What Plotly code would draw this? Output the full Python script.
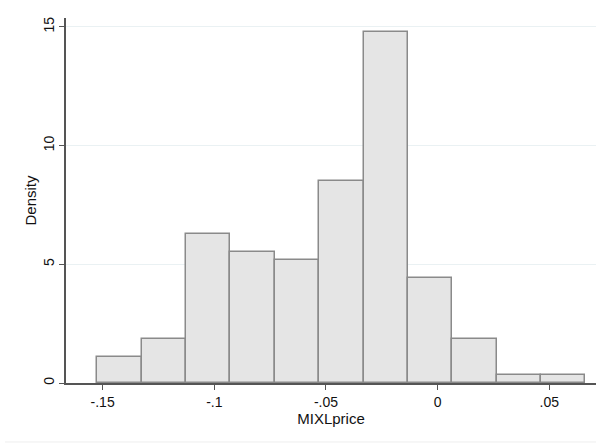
import plotly.graph_objects as go

# Histogram data
bin_start = -0.1524
bin_width = 0.01987
densities = [1.11, 1.84, 6.28, 5.53, 5.18, 8.51, 14.78, 4.42, 1.84, 0.34, 0.34]
x_tickvals = [-0.15, -0.1, -0.05, 0, 0.05]
x_ticktext = ["-.15", "-.1", "-.05", "0", ".05"]
y_tickvals = [0, 5, 10, 15]
y_ticktext = ["0", "5", "10", "15"]

centers = [bin_start + bin_width * (i + 0.5) for i in range(len(densities))]

fig = go.Figure()
fig.add_trace(go.Bar(
    x=centers, y=densities, width=[bin_width] * len(densities),
    marker=dict(color="#e5e5e5", line=dict(color="#8a8a8a", width=1.5)),
    hoverinfo="skip",
))

font = dict(family="Liberation Sans, Arial, Helvetica, sans-serif", size=14, color="#111")

fig.update_layout(
    width=605, height=443,
    margin=dict(l=66, r=9, t=18, b=60),
    paper_bgcolor="white", plot_bgcolor="white",
    showlegend=False, bargap=0,
    font=font,
    xaxis=dict(
        range=[-0.1664, 0.0709], automargin=False,
        tickvals=x_tickvals, ticktext=x_ticktext,
        ticks="outside", ticklen=5, tickwidth=1.2, tickcolor="#555",
        showline=True, linecolor="#555", linewidth=1.5,
        showgrid=False, zeroline=False,
        title=dict(text="MIXLprice", font=dict(size=15), standoff=3),
    ),
    yaxis=dict(
        range=[0, 15.37], automargin=False,
        tickvals=y_tickvals, ticktext=y_ticktext, tickangle=-90,
        ticks="outside", ticklen=5, tickwidth=1.2, tickcolor="#555",
        showline=True, linecolor="#555", linewidth=1.5,
        showgrid=True, gridcolor="#eaf1f3", gridwidth=1.2,
        zeroline=False,
        title=dict(text="Density", font=dict(size=15), standoff=0),
    ),
)

# faint outer graph border at the bottom
fig.add_shape(type="line", xref="paper", yref="paper",
              x0=-0.115, x1=1.0, y0=-0.1616, y1=-0.1616,
              line=dict(color="#eeeeee", width=1))

fig.write_html(
    "out.html",
    config={"displayModeBar": False},
    post_script="document.body.style.margin='0';document.body.style.overflow='hidden';",
)
